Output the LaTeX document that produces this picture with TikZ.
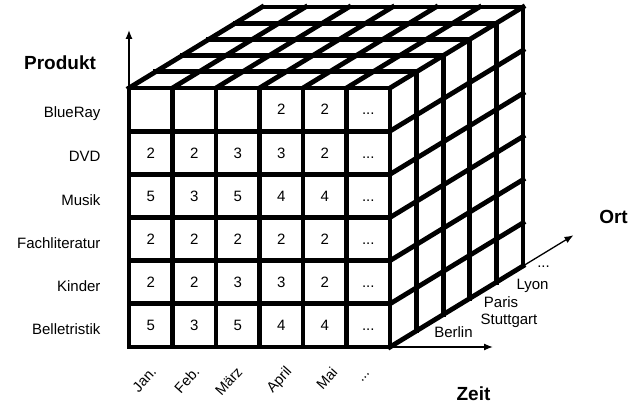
\documentclass[tikz,border=0pt]{standalone}
\usepackage{fontspec}
\setmainfont{Liberation Sans}
\usepackage{tikz}
\usetikzlibrary{arrows.meta, positioning}

\tikzset{
  grid/.style={line width=4.8pt, line cap=rect, line join=miter},
  axis/.style={line width=1.3pt, -{Latex[length=9pt,width=7pt]}},
  lab/.style={font=\fontsize{15}{17}\selectfont, inner sep=0.5pt},
  cell/.style={lab, text height=10.8pt, text depth=0pt},
  month/.style={font=\fontsize{14.5}{16}\selectfont, rotate=48, anchor=east, inner sep=0.5pt},
  title/.style={font=\fontsize{19}{22}\selectfont\bfseries}
}

\begin{document}
\begin{tikzpicture}[x={(43.5pt,0pt)}, y={(0pt,43.17pt)}, z={(26.6pt,16.2pt)}]
  \useasboundingbox (-129pt,-59pt) rectangle (508pt,347pt);

  \coordinate (fbl) at (0,0,0);
  \coordinate (fbr) at (6,0,0);
  \coordinate (ftl) at (0,6,0);
  \coordinate (bbr) at (6,0,5);
  \coordinate[above=58pt of ftl] (ptip);
  \coordinate[right=103pt of fbr] (ztip);
  \coordinate (otip) at (6,0,6.9);

  % front face
  \foreach \i in {0,...,6} \draw[grid] (\i,0,0) -- (\i,6,0);
  \foreach \j in {0,...,6} \draw[grid] (0,\j,0) -- (6,\j,0);
  % top face
  \foreach \i in {0,...,6} \draw[grid] (\i,6,0) -- (\i,6,5);
  \foreach \k in {1,...,5} \draw[grid] (0,6,\k) -- (6,6,\k);
  % right face
  \foreach \k in {1,...,5} \draw[grid] (6,0,\k) -- (6,6,\k);
  \foreach \j in {0,...,5} \draw[grid] (6,\j,0) -- (6,\j,5);

  \draw[axis] (ftl) -- (ptip);
  \draw[axis] (fbr) -- (ztip);
  \draw[axis] (bbr) -- (otip);

  \foreach \r [count=\j from 0] in {{5,3,5,4,4},{2,2,3,3,2},{2,2,2,2,2},{5,3,5,4,4},{2,2,3,3,2},{{},{},{},2,2}}
    \foreach \v [count=\i from 0] in \r
      \node[cell] (c-\i-\j) at (\i+0.5,\j+0.5) {\v};
  \foreach \j in {0,...,5}
    \node[cell] (c-5-\j) at (5.5,\j+0.5) {...};

  \foreach \p [count=\j from 0] in {Belletristik, Kinder, Fachliteratur, Musik, DVD, BlueRay}
    \node[lab, anchor=east, yshift=-4pt] (p-\j) at (-0.64,\j+0.5) {\p};

  \foreach \m/\x [count=\i] in {Jan./25, Feb./68, März/111, April/161, Mai/206}
    \node[month] (m-\i) at (\x pt,-22pt) {\m};
  \node[month] (m-6) at (241pt,-25pt) {...};

  \node[lab] (berlin) at (324.5pt,15pt) {Berlin};
  \node[lab] (stuttgart) at (380pt,26.5pt) {Stuttgart};
  \node[lab] (paris) at (372pt,45pt) {Paris};
  \node[lab] (lyon) at (403.5pt,61pt) {Lyon};
  \node[lab] (odots) at (414.5pt,80pt) {...};

  \node[title] (produkt) at (-69pt,284.5pt) {Produkt};
  \node[title] (ort) at (484.5pt,130.5pt) {Ort};
  \node[title] (zeit) at (344.5pt,-46.5pt) {Zeit};
\end{tikzpicture}
\end{document}
